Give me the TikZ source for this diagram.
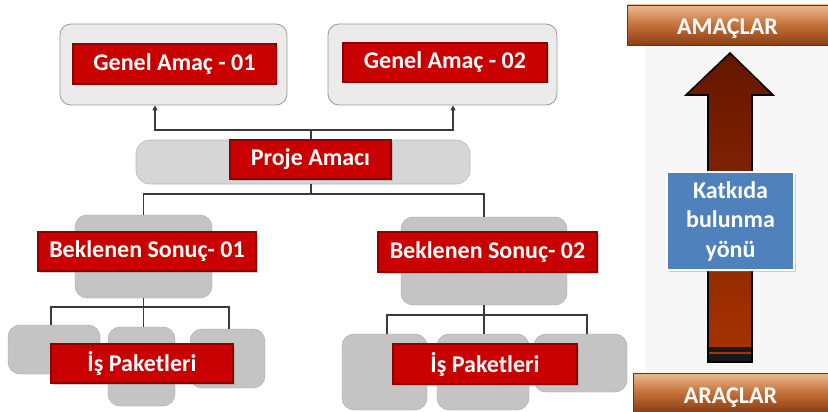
\documentclass[tikz,border=0pt]{standalone}
\usepackage{fontspec}
\setmainfont{Carlito}
\usetikzlibrary{arrows.meta,shadows}
\definecolor{redfill}{HTML}{C80000}
\definecolor{reddark}{HTML}{8E0000}
\definecolor{paleBox}{HTML}{EBEBEB}
\definecolor{paleEdge}{HTML}{9A9A9A}
\definecolor{midBox}{HTML}{D6D6D6}
\definecolor{grayBox}{HTML}{C4C4C4}
\definecolor{lineCol}{HTML}{3A3A3A}
\definecolor{blueBox}{HTML}{4F81BD}
\definecolor{barTop}{HTML}{ECBA90}
\definecolor{barMid}{HTML}{C4703A}
\definecolor{barBot}{HTML}{8A3E14}
\definecolor{arrTop}{HTML}{651600}
\definecolor{arrBot}{HTML}{A83400}
\definecolor{bgGray}{HTML}{F7F7F7}
\begin{document}
\begin{tikzpicture}[x=1pt,y=-1pt,
  lbl/.style={font=\bfseries\fontsize{24}{29.5}\selectfont, text=white},
  redlbl/.style={lbl, draw=reddark, line width=1.6pt, fill=redfill, inner sep=0pt,
     drop shadow={shadow xshift=1.5pt, shadow yshift=-1.5pt, opacity=0.35}},
  outerbox/.style={draw=paleEdge, line width=0.8pt, fill=paleBox, rounded corners=11pt, inner sep=0pt},
  projbox/.style={draw=paleEdge!70, line width=0.6pt, fill=midBox, rounded corners=14pt, inner sep=0pt},
  graybox/.style={draw=grayBox!85!black, line width=0.4pt, fill=grayBox, rounded corners=12pt, inner sep=0pt},
  conn/.style={draw=lineCol, line width=1.5pt},
  arr/.style={conn, -{Triangle[length=5pt,width=5pt]}},
  barbox/.style={lbl, inner sep=0pt, top color=barTop, bottom color=barBot, middle color=barMid, draw=barBot!80!black, line width=0.6pt, text depth=0pt},
  bluebox/.style={lbl, draw=white, line width=1.5pt, fill=blueBox, inner sep=0pt, align=center,
     drop shadow={shadow xshift=1.5pt, shadow yshift=-1.5pt, opacity=0.35}}
]
\useasboundingbox (0,0) rectangle (828,412);
\fill[white] (0,0) rectangle (828,412);
\fill[bgGray] (645,45) rectangle (828,373);

% gray containers
\node[outerbox, minimum width=227pt, minimum height=81pt] (ga1) at (173.5,64.5) {};
\node[outerbox, minimum width=229pt, minimum height=81pt] (ga2) at (442.5,64.5) {};
\node[projbox, minimum width=334pt, minimum height=44pt] (pa) at (303,162) {};
\node[graybox, minimum width=137pt, minimum height=83pt] (bs1) at (143.5,256.5) {};
\node[graybox, minimum width=166pt, minimum height=88pt] (bs2) at (484,261) {};
\node[graybox, minimum width=92pt, minimum height=49pt] (w1a) at (54,349.5) {};
\node[graybox, minimum width=67pt, minimum height=79pt] (w1b) at (141.5,366.5) {};
\node[graybox, minimum width=75pt, minimum height=59pt] (w1c) at (227.5,358.5) {};
\node[graybox, minimum width=85pt, minimum height=76pt] (w2a) at (384.5,372) {};
\node[graybox, minimum width=92pt, minimum height=76pt] (w2b) at (483,372) {};
\node[graybox, minimum width=93pt, minimum height=58pt] (w2c) at (580.5,363) {};

% connectors
\coordinate (j1) at (311,130);
\coordinate (j2) at (311,194);
\coordinate (j3) at (143.5,307);
\coordinate (j4) at (484,315);
\draw[conn] (pa.north -| j1) -- (j1);
\draw[arr] (j1) -| ([xshift=-18.5pt]ga1.south);
\draw[arr] (j1) -| ([xshift=10.5pt]ga2.south);
\draw[conn] (pa.south -| j2) -- (j2);
\draw[conn] (j2) -| (bs1.north);
\draw[conn] (j2) -| (bs2.north);
\draw[conn] (bs1.south) -- (j3);
\draw[conn] (j3) -| ([xshift=-3pt]w1a.north);
\draw[conn] (j3) -- (w1b.north -| j3);
\draw[conn] (j3) -| ([xshift=1.5pt]w1c.north);
\draw[conn] (bs2.south) -- (j4);
\draw[conn] (j4) -| ([xshift=2.5pt]w2a.north);
\draw[conn] (j4) -- (w2b.north -| j4);
\draw[conn] (j4) -| ([xshift=6.5pt]w2c.north);

% red labels
\node[redlbl, minimum width=203pt, minimum height=40pt] (ga1l) at (174.5,64) {Genel Amaç - 01};
\node[redlbl, minimum width=204pt, minimum height=39pt] (ga2l) at (445,62.5) {Genel Amaç - 02};
\node[redlbl, minimum width=161pt, minimum height=39pt] (pal) at (310.5,159.5) {Proje Amacı};
\node[redlbl, minimum width=218pt, minimum height=39pt] (bs1l) at (147,251.5) {Beklenen Sonuç- 01};
\node[redlbl, minimum width=219pt, minimum height=40pt] (bs2l) at (487.5,252) {Beklenen Sonuç- 02};
\node[redlbl, minimum width=182pt, minimum height=39pt] (wp1l) at (142,363.5) {İş Paketleri};
\node[redlbl, minimum width=184pt, minimum height=40pt] (wp2l) at (485,364) {İş Paketleri};

% right panel
\node[barbox, minimum width=201pt, minimum height=40pt, text height=20pt] (amac) at (727.5,25) {AMAÇLAR};
\node[barbox, minimum width=195pt, minimum height=39pt, text height=22pt] (arac) at (730.5,392.5) {ARAÇLAR};
\shade[top color=arrTop, bottom color=arrBot, draw=black, line width=1.6pt, line join=miter]
  (686,95) -- (730,53) -- (773,95) -- (752,95) -- (752,362) -- (708,362) -- (708,95) -- cycle;
\fill[black!90] (708.8,347) rectangle (751.2,361.2);
\fill[arrBot] (709,351.5) rectangle (751,353.5);
\node[bluebox, minimum width=127pt, minimum height=98pt] (kat) at (730.5,221) {Katkıda\\bulunma\\yönü};
\end{tikzpicture}
\end{document}
